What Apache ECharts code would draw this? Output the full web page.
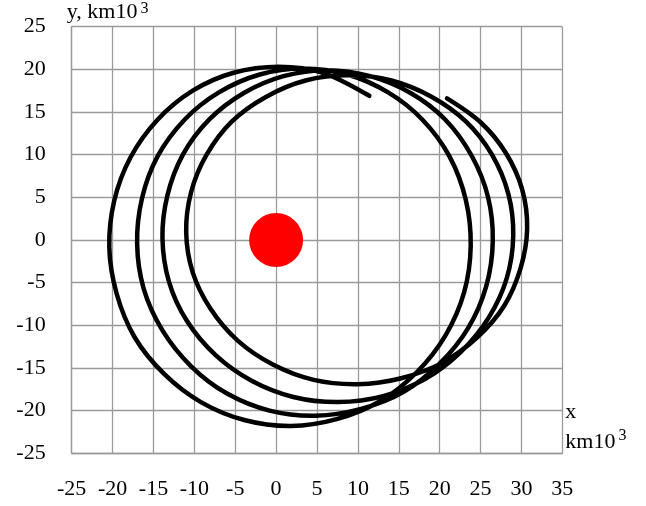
<!DOCTYPE html>
<html>
<head>
<meta charset="utf-8">
<script src="https://cdn.jsdelivr.net/npm/echarts@6/dist/echarts.min.js"></script>
<style>html,body{margin:0;padding:0;background:#fff}#chart{width:646px;height:506px}</style>
</head>
<body>
<div id="chart"></div>
<script>
// Axis ticks
const xTicks = [-25, -20, -15, -10, -5, 0, 5, 10, 15, 20, 25, 30, 35];
const yTicks = [-25, -20, -15, -10, -5, 0, 5, 10, 15, 20, 25];

// Orbit trajectory (x, y in km*10^3), clockwise, one array per turn
const turn1 = [[20.9,16.6],[25.0,13.8],[28.1,10.2],[30.1,5.9],[30.7,1.3],[29.9,-3.3],[27.9,-7.7],[24.6,-11.4],[20.3,-14.4],[15.3,-16.2],[10.0,-16.9],[4.6,-16.4],[-0.4,-14.6],[-4.7,-11.8],[-8.0,-8.1],[-10.2,-3.8],[-11.0,0.9],[-10.4,5.6],[-8.5,10.0],[-5.4,13.9],[-1.2,16.8],[3.6,18.7]];
const turn2 = [[8.9,19.3],[14.1,18.7],[19.0,16.8],[23.2,13.9],[26.4,10.0],[28.4,5.4],[29.0,0.5],[28.2,-4.5],[26.0,-9.1],[22.6,-13.1],[18.2,-16.3],[13.1,-18.3],[7.6,-19.0],[2.1,-18.4],[-3.0,-16.5],[-7.4,-13.5],[-10.9,-9.5],[-13.1,-4.9],[-13.9,0.2],[-13.3,5.2],[-11.4,10.0],[-8.2,14.1],[-4.0,17.2],[0.9,19.2]];
const turn3 = [[6.2,19.9],[11.5,19.2],[16.5,17.2],[20.7,14.1],[23.9,9.9],[25.9,5.1],[26.5,-0.1],[25.7,-5.4],[23.5,-10.3],[20.0,-14.5],[15.6,-17.8],[10.4,-19.8],[4.8,-20.6],[-0.8,-20.0],[-6.0,-18.0],[-10.4,-14.8],[-13.9,-10.6],[-16.2,-5.7],[-17.0,-0.4],[-16.4,4.9],[-14.5,9.8],[-11.2,14.1],[-7.0,17.3],[-2.0,19.4]];
const turn4 = [[3.3,20.1],[8.7,19.4],[13.7,17.3],[17.9,14.1],[21.2,9.8],[23.2,4.7],[23.8,-0.7],[23.0,-6.1],[20.7,-11.2],[17.2,-15.5],[12.7,-18.9],[7.4,-21.0],[1.8,-21.8],[-3.9,-21.1],[-9.2,-19.0],[-13.7,-15.7],[-17.3,-11.4],[-19.5,-6.3],[-20.4,-0.9],[-19.8,4.6],[-17.8,9.7],[-14.5,14.1],[-10.2,17.5],[-5.2,19.6],[0.3,20.3],[5.7,19.6],[11.4,16.9]];

// Earth at the origin
const earth = [[0, 0]];

const trajectory = turn1.concat(turn2, turn3, turn4);

const font = '"Liberation Serif", "Times New Roman", serif';
const chart = echarts.init(document.getElementById('chart'), null, {renderer: 'canvas'});
chart.setOption({
  animation: false,
  backgroundColor: '#ffffff',
  grid: {left: 71.7, right: 83.7, top: 26.7, bottom: 52.7, containLabel: false},
  xAxis: {
    type: 'value', min: xTicks[0], max: xTicks[xTicks.length - 1], interval: 5,
    axisLine: {show: true, onZero: false, lineStyle: {color: '#9a9a9a', width: 1.3}},
    axisTick: {show: false},
    splitLine: {show: true, lineStyle: {color: '#9a9a9a', width: 1.3}},
    axisLabel: {color: '#000', fontFamily: font, fontSize: 22, margin: 25,
      formatter: v => xTicks.includes(v) ? String(v) : ''},
    name: '{a|x}\n{a|km10}{s|3}',
    nameLocation: 'end', nameGap: 3,
    nameTextStyle: {align: 'left', verticalAlign: 'bottom', padding: [0, 0, -4, 0],
      rich: {a: {fontFamily: font, fontSize: 22, color: '#000', lineHeight: 30},
             s: {fontFamily: font, fontSize: 16, color: '#000', lineHeight: 22, verticalAlign: 'top', padding: [0, 0, 0, 3]}}}
  },
  yAxis: {
    type: 'value', min: yTicks[0], max: yTicks[yTicks.length - 1], interval: 5,
    axisLine: {show: true, onZero: false, lineStyle: {color: '#9a9a9a', width: 1.3}},
    axisTick: {show: false},
    splitLine: {show: true, lineStyle: {color: '#9a9a9a', width: 1.3}},
    axisLabel: {color: '#000', fontFamily: font, fontSize: 22, margin: 26,
      formatter: v => yTicks.includes(v) ? String(v) : ''},
    name: '{a|y, km10}{s|3}',
    nameLocation: 'end', nameGap: 2,
    nameTextStyle: {align: 'left', verticalAlign: 'bottom', padding: [0, 0, 0, -5],
      rich: {a: {fontFamily: font, fontSize: 22, color: '#000', lineHeight: 24},
             s: {fontFamily: font, fontSize: 16, color: '#000', lineHeight: 18, verticalAlign: 'top', padding: [0, 0, 0, 3]}}}
  },
  series: [
    {
      name: 'Earth', type: 'scatter', data: earth, symbol: 'circle', symbolSize: 54,
      itemStyle: {color: '#ff0000', opacity: 1}, z: 2, silent: true
    },
    {
      name: 'Trajectory', type: 'custom', coordinateSystem: 'cartesian2d',
      data: trajectory, encode: {x: 0, y: 1}, clip: false, silent: true, z: 3,
      renderItem: function (params, api) {
        if (params.dataIndex !== 0) return null;
        const pts = trajectory.map(p => api.coord(p));
        return {
          type: 'polyline',
          shape: {points: pts, smooth: 0.333, smoothConstraint: false},
          style: {stroke: '#000', lineWidth: 4.5, fill: null, lineCap: 'round', lineJoin: 'round'}
        };
      }
    }
  ]
});
</script>
</body>
</html>
